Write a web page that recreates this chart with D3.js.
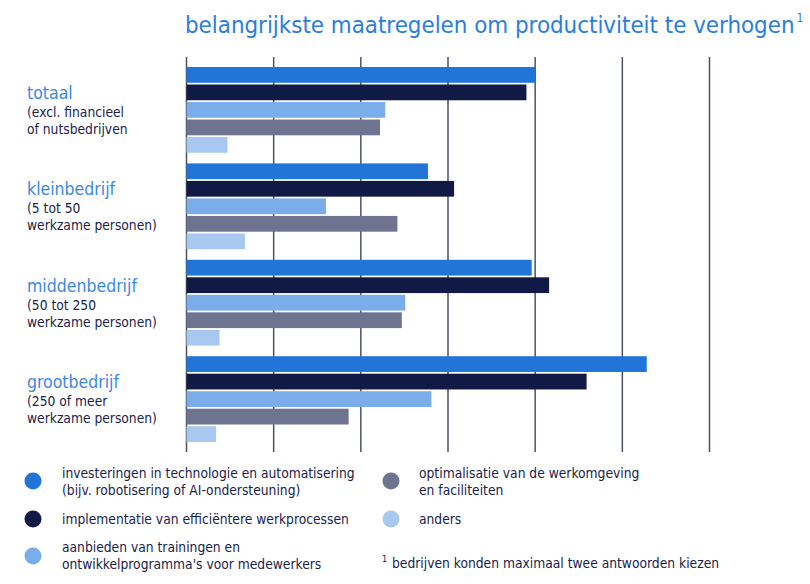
<!DOCTYPE html>
<html>
<head>
<meta charset="utf-8">
<script src="https://cdn.jsdelivr.net/npm/d3@7"></script>
<style>
  body { margin: 0; background: #fff; }
  svg { display: block; font-family: "DejaVu Sans Condensed", "DejaVu Sans", sans-serif; font-stretch: condensed; }
</style>
</head>
<body>
<div id="chart"></div>
<script>
// Main categories (company size) with their two-line notes.
const groups = ['totaal', 'kleinbedrijf', 'middenbedrijf', 'grootbedrijf'];
const groupNotes = [
  ['(excl. financieel', 'of nutsbedrijven'],
  ['(5 tot 50', 'werkzame personen)'],
  ['(50 tot 250', 'werkzame personen)'],
  ['(250 of meer', 'werkzame personen)']
];

// Measures, in bar order, with their legend text.
const seriesKeys = ['investeringen', 'implementatie', 'trainingen', 'optimalisatie', 'anders'];
const seriesLabels = [
  ['investeringen in technologie en automatisering', '(bijv. robotisering of AI-ondersteuning)'],
  ['implementatie van efficiëntere werkprocessen'],
  ['aanbieden van trainingen en', "ontwikkelprogramma's voor medewerkers"],
  ['optimalisatie van de werkomgeving', 'en faciliteiten'],
  ['anders']
];
const seriesColors = ['#2175d9', '#111a45', '#7badea', '#6e738f', '#a8c8f0'];

// Percentages, one value per group.
const investeringen = [40, 27.7, 39.6, 52.8];
const implementatie = [39, 30.7, 41.6, 45.9];
const trainingen = [22.8, 16, 25.1, 28.1];
const optimalisatie = [22.2, 24.2, 24.7, 18.6];
const anders = [4.7, 6.7, 3.8, 3.4];

const gridTicks = [0, 10, 20, 30, 40, 50, 60];

const title = 'belangrijkste maatregelen om productiviteit te verhogen';
const footnote = 'bedrijven konden maximaal twee antwoorden kiezen';

const W = 810, H = 584;
const valuesBySeries = {investeringen, implementatie, trainingen, optimalisatie, anders};
const rows = groups.map((g, i) => ({
  group: g,
  notes: groupNotes[i],
  bars: seriesKeys.map(k => ({key: k, value: valuesBySeries[k][i]}))
}));

const svg = d3.select('#chart').append('svg').attr('width', W).attr('height', H);

// Pick a font size so that a sample string has the width seen in the picture.
function fitSize(sample, width) {
  const probe = svg.append('text').style('font-size', '20px').text(sample);
  const w = probe.node().getComputedTextLength();
  probe.remove();
  return 20 * width / w;
}
const titleSize = fitSize(title, 610);
const groupSize = fitSize('middenbedrijf', 110);
const bodySize = fitSize('investeringen in technologie en automatisering', 293);

const x = d3.scaleLinear().domain([0, 60]).range([186.5, 709.5]);
const y0 = d3.scaleBand().domain(groups).range([61.7, 447.3]).paddingInner(0.11).paddingOuter(0.055);
const y1 = d3.scaleBand().domain(seriesKeys).range([0, y0.bandwidth()]).paddingInner(0.1);
const color = d3.scaleOrdinal(seriesKeys, seriesColors);

// Title with superscript footnote marker.
const t = svg.append('text')
  .attr('x', 185).attr('y', 33)
  .attr('fill', '#2b7de0')
  .style('font-size', titleSize + 'px')
  .text(title);
svg.append('text')
  .attr('x', 185 + t.node().getComputedTextLength() + 2).attr('y', 22)
  .attr('fill', '#2b7de0')
  .style('font-size', '12px')
  .text('1');

// Vertical gridlines behind the bars.
svg.append('g').selectAll('line')
  .data(gridTicks)
  .join('line')
  .attr('x1', d => x(d)).attr('x2', d => x(d))
  .attr('y1', 57).attr('y2', 452)
  .attr('stroke', '#4c5069')
  .attr('stroke-width', 1.5);

const grp = svg.append('g').selectAll('g.group')
  .data(rows)
  .join('g')
  .attr('class', 'group')
  .attr('transform', d => `translate(0,${y0(d.group)})`);

grp.selectAll('rect')
  .data(d => d.bars)
  .join('rect')
  .attr('x', x(0))
  .attr('y', d => y1(d.key))
  .attr('width', d => x(d.value) - x(0))
  .attr('height', y1.bandwidth())
  .attr('fill', d => color(d.key));

// Category labels to the left.
grp.append('text')
  .attr('x', 27).attr('y', 32)
  .attr('fill', '#3b88e4')
  .style('font-size', groupSize + 'px')
  .text(d => d.group);

grp.append('text')
  .attr('fill', '#1a2249')
  .style('font-size', bodySize + 'px')
  .selectAll('tspan')
  .data(d => d.notes)
  .join('tspan')
  .attr('x', 27)
  .attr('y', (d, i) => 50 + i * 17)
  .text(d => d);

// Legend in two columns.
const legendPos = [
  {cx: 33, cy: 481, tx: 62, ty: 478},
  {cx: 33, cy: 519, tx: 62, ty: 524},
  {cx: 33, cy: 556, tx: 62, ty: 552},
  {cx: 391, cy: 481, tx: 419, ty: 478},
  {cx: 391, cy: 519, tx: 419, ty: 524}
];
const leg = svg.append('g').selectAll('g')
  .data(seriesKeys)
  .join('g');
leg.append('circle')
  .attr('cx', (d, i) => legendPos[i].cx)
  .attr('cy', (d, i) => legendPos[i].cy)
  .attr('r', 8.5)
  .attr('fill', d => color(d));
leg.append('text')
  .attr('fill', '#1a2249')
  .style('font-size', bodySize + 'px')
  .each(function(d, i) {
    d3.select(this).selectAll('tspan')
      .data(seriesLabels[i])
      .join('tspan')
      .attr('x', legendPos[i].tx)
      .attr('y', (s, j) => legendPos[i].ty + j * 17)
      .text(s => s);
  });

// Footnote.
svg.append('text')
  .attr('x', 382).attr('y', 562)
  .attr('fill', '#1a2249')
  .style('font-size', '9px')
  .text('1');
svg.append('text')
  .attr('x', 392).attr('y', 568)
  .attr('fill', '#1a2249')
  .style('font-size', bodySize + 'px')
  .text(footnote);
</script>
</body>
</html>
